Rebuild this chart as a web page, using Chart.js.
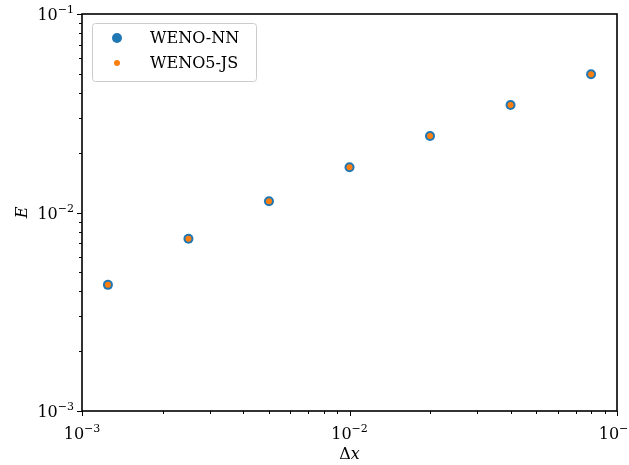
<!DOCTYPE html>
<html><head><meta charset="utf-8">
<script src="https://cdn.jsdelivr.net/npm/chart.js@4"></script>
<style>html,body{margin:0;padding:0;background:#fff}#wrap{width:629px;height:465px}</style>
</head><body><div id="wrap"><canvas id="c" width="629" height="465"></canvas></div>
<script>
const dx = [0.00125, 0.0025, 0.005, 0.01, 0.02, 0.04, 0.08];
const errNN = [0.00432, 0.00738, 0.0114, 0.0169, 0.0243, 0.0348, 0.0497];
const errJS = [0.00432, 0.00738, 0.0114, 0.0169, 0.0243, 0.0348, 0.0497];
const seriesLabels = ['WENO-NN', 'WENO5-JS'];
const majorTicks = [1e-3, 1e-2, 1e-1];
const tickExponents = ['−3', '−2', '−1'];
const xTitle = ['Δ', 'x'];
const yTitle = 'E';

const FONT = '"DejaVu Serif", serif';

function drawPow(ctx, exp, x, y, align) {
  ctx.save();
  ctx.font = '16px ' + FONT;
  const wb = ctx.measureText('10').width;
  ctx.font = '11px ' + FONT;
  const we = ctx.measureText(exp).width;
  const w = wb + we;
  let x0 = align === 'center' ? x - w / 2 : x - w;
  ctx.textBaseline = 'alphabetic';
  ctx.textAlign = 'left';
  ctx.fillStyle = '#000';
  ctx.font = '16px ' + FONT;
  ctx.fillText('10', x0, y);
  ctx.font = '11px ' + FONT;
  ctx.fillText(exp, x0 + wb, y - 7);
  ctx.restore();
}

const decor = {
  id: 'decor',
  afterDraw(chart) {
    const ctx = chart.ctx;
    const a = chart.chartArea;
    const xs = chart.scales.x, ys = chart.scales.y;
    ctx.save();
    ctx.strokeStyle = '#000';
    ctx.lineWidth = 1.6;
    ctx.strokeRect(a.left, a.top, a.right - a.left, a.bottom - a.top);
    ctx.lineWidth = 1;
    for (let e = -3; e <= -2; e++) {
      for (let m = 1; m <= 10; m++) {
        const v = m * Math.pow(10, e);
        const major = (m === 1 || m === 10);
        const len = major ? 5 : 3;
        const px = Math.round(xs.getPixelForValue(v)) + 0.5;
        ctx.beginPath(); ctx.moveTo(px, a.bottom); ctx.lineTo(px, a.bottom + len); ctx.stroke();
        const py = Math.round(ys.getPixelForValue(v)) + 0.5;
        ctx.beginPath(); ctx.moveTo(a.left, py); ctx.lineTo(a.left - len, py); ctx.stroke();
      }
    }
    majorTicks.forEach((v, i) => {
      drawPow(ctx, tickExponents[i], xs.getPixelForValue(v), a.bottom + 28, 'center');
      drawPow(ctx, tickExponents[i], a.left - 8, ys.getPixelForValue(v) + 6, 'right');
    });
    ctx.fillStyle = '#000';
    ctx.textBaseline = 'alphabetic';
    ctx.font = '16px ' + FONT;
    const w1 = ctx.measureText(xTitle[0]).width;
    ctx.font = 'italic 16px ' + FONT;
    const w2 = ctx.measureText(xTitle[1]).width;
    const cx = (a.left + a.right) / 2 - (w1 + w2) / 2;
    ctx.font = '16px ' + FONT;
    ctx.fillText(xTitle[0], cx, 459);
    ctx.font = 'italic 16px ' + FONT;
    ctx.fillText(xTitle[1], cx + w1, 459);
    ctx.save();
    ctx.translate(27, (a.top + a.bottom) / 2);
    ctx.rotate(-Math.PI / 2);
    ctx.textAlign = 'center';
    ctx.font = 'italic 16px ' + FONT;
    ctx.fillText(yTitle, 0, 0);
    ctx.restore();
    const lx = 92, ly = 23, lw = 164, lh = 58;
    ctx.beginPath();
    ctx.roundRect(lx + 0.5, ly + 0.5, lw, lh, 3);
    ctx.fillStyle = 'rgba(255,255,255,0.8)';
    ctx.fill();
    ctx.strokeStyle = '#cccccc';
    ctx.lineWidth = 1;
    ctx.stroke();
    const ds = chart.data.datasets;
    [[38, ds[0]], [63, ds[1]]].forEach(([yy, d]) => {
      ctx.beginPath();
      ctx.arc(117, yy, d.pointRadius, 0, Math.PI * 2);
      ctx.fillStyle = d.backgroundColor;
      ctx.fill();
      ctx.fillStyle = '#000';
      ctx.font = '16px ' + FONT;
      ctx.textAlign = 'left';
      ctx.textBaseline = 'middle';
      ctx.fillText(d.label, 150, yy + 1);
    });
    ctx.restore();
  }
};

new Chart(document.getElementById('c'), {
  type: 'scatter',
  data: {
    datasets: [
      { label: seriesLabels[0], data: dx.map((v, i) => ({x: v, y: errNN[i]})),
        backgroundColor: '#1f77b4', borderColor: '#1f77b4', pointRadius: 5, pointBorderWidth: 0, order: 2 },
      { label: seriesLabels[1], data: dx.map((v, i) => ({x: v, y: errJS[i]})),
        backgroundColor: '#ff7f0e', borderColor: '#ff7f0e', pointRadius: 3, pointBorderWidth: 0, order: 1 }
    ]
  },
  options: {
    responsive: false,
    animation: false,
    devicePixelRatio: 1,
    layout: { padding: { left: 0, top: 14, right: 12, bottom: 0 } },
    plugins: { legend: { display: false }, tooltip: { enabled: false } },
    scales: {
      x: { type: 'logarithmic', min: 1e-3, max: 1e-1,
           grid: { display: false }, border: { display: false }, ticks: { display: false },
           afterFit(s) { s.height = 54; } },
      y: { type: 'logarithmic', min: 1e-3, max: 1e-1,
           grid: { display: false }, border: { display: false }, ticks: { display: false },
           afterFit(s) { s.width = 82; } }
    }
  },
  plugins: [decor]
});
</script></body></html>
